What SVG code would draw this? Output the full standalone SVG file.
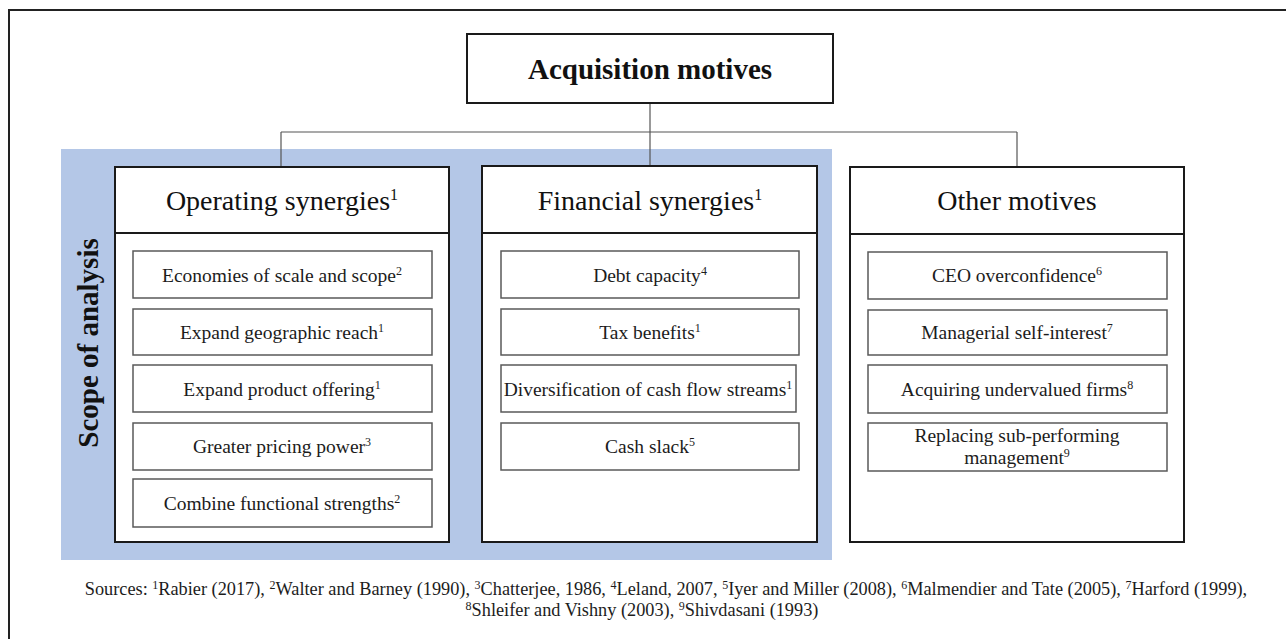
<svg xmlns="http://www.w3.org/2000/svg" width="1286" height="639" viewBox="0 0 1286 639">
  <style>
    text { font-family: "Liberation Serif", "Times New Roman", serif; fill: #111; }
    .title { font-size: 29px; font-weight: bold; text-anchor: middle; }
    .scope { font-size: 29px; font-weight: bold; text-anchor: middle; }
    .head { font-size: 28px; text-anchor: middle; }
    .item { font-size: 19.5px; text-anchor: middle; fill: #1c1c1c; }
    .src { font-size: 18.3px; text-anchor: middle; fill: #1c1c1c; }
    .sup-h { font-size: 16px; }
    .sup { font-size: 12px; }
    .frame { fill: none; stroke: #222; stroke-width: 2; }
    .cat { fill: #fff; stroke: #1a1a1a; stroke-width: 2; }
    .divider { stroke: #1a1a1a; stroke-width: 2; }
    .cell { fill: #fff; stroke: #595959; stroke-width: 1.5; }
    .link { fill: none; stroke: #555; stroke-width: 1.2; }
  </style>

  <!-- page frame (continues past the right and bottom edges) -->
  <rect class="frame" x="9" y="10" width="1290" height="650"/>

  <!-- shaded band marking the analysed motive groups -->
  <rect id="scope-band" x="61" y="149" width="771" height="411" fill="#b4c7e7"/>
  <text class="scope" transform="translate(98,343) rotate(-90)">Scope of analysis</text>

  <!-- tree connectors -->
  <g id="connectors">
    <path class="link" d="M650,103 V166"/>
    <path class="link" d="M281,132 H1017"/>
    <path class="link" d="M281,132 V166"/>
    <path class="link" d="M1017,132 V167"/>
  </g>

  <!-- root -->
  <g id="root">
    <rect class="cat" x="467" y="34" width="366" height="69"/>
    <text class="title" x="650" y="79">Acquisition motives</text>
  </g>

  <!-- operating synergies -->
  <g id="operating">
    <rect class="cat" x="115" y="167" width="334" height="375"/>
    <line class="divider" x1="115" y1="233" x2="449" y2="233"/>
    <text class="head" x="282" y="210">Operating synergies<tspan class="sup-h" baseline-shift="10">1</tspan></text>
    <rect class="cell" x="133" y="251" width="299" height="47"/>
    <text class="item" x="282" y="282">Economies of scale and scope<tspan class="sup" baseline-shift="7">2</tspan></text>
    <rect class="cell" x="133" y="309" width="299" height="46"/>
    <text class="item" x="282" y="339">Expand geographic reach<tspan class="sup" baseline-shift="7">1</tspan></text>
    <rect class="cell" x="133" y="365" width="299" height="47"/>
    <text class="item" x="282" y="396">Expand product offering<tspan class="sup" baseline-shift="7">1</tspan></text>
    <rect class="cell" x="133" y="423" width="299" height="47"/>
    <text class="item" x="282" y="453">Greater pricing power<tspan class="sup" baseline-shift="7">3</tspan></text>
    <rect class="cell" x="133" y="479" width="299" height="48"/>
    <text class="item" x="282" y="510">Combine functional strengths<tspan class="sup" baseline-shift="7">2</tspan></text>
  </g>

  <!-- financial synergies -->
  <g id="financial">
    <rect class="cat" x="482" y="166" width="335" height="376"/>
    <line class="divider" x1="482" y1="233" x2="817" y2="233"/>
    <text class="head" x="650" y="210">Financial synergies<tspan class="sup-h" baseline-shift="10">1</tspan></text>
    <rect class="cell" x="501" y="251" width="298" height="47"/>
    <text class="item" x="650" y="282">Debt capacity<tspan class="sup" baseline-shift="7">4</tspan></text>
    <rect class="cell" x="501" y="309" width="298" height="46"/>
    <text class="item" x="650" y="339">Tax benefits<tspan class="sup" baseline-shift="7">1</tspan></text>
    <rect class="cell" x="501" y="365" width="295" height="47"/>
    <text class="item" x="648" y="396">Diversification of cash flow streams<tspan class="sup" baseline-shift="7">1</tspan></text>
    <rect class="cell" x="501" y="423" width="298" height="47"/>
    <text class="item" x="650" y="453">Cash slack<tspan class="sup" baseline-shift="7">5</tspan></text>
  </g>

  <!-- other motives -->
  <g id="other">
    <rect class="cat" x="850" y="167" width="334" height="375"/>
    <line class="divider" x1="850" y1="234" x2="1184" y2="234"/>
    <text class="head" x="1017" y="210">Other motives</text>
    <rect class="cell" x="868" y="252" width="299" height="47"/>
    <text class="item" x="1017" y="282">CEO overconfidence<tspan class="sup" baseline-shift="7">6</tspan></text>
    <rect class="cell" x="868" y="310" width="299" height="45"/>
    <text class="item" x="1017" y="339">Managerial self-interest<tspan class="sup" baseline-shift="7">7</tspan></text>
    <rect class="cell" x="868" y="365" width="299" height="48"/>
    <text class="item" x="1017" y="396">Acquiring undervalued firms<tspan class="sup" baseline-shift="7">8</tspan></text>
    <rect class="cell" x="868" y="423" width="299" height="48"/>
    <text class="item" x="1017" y="442">Replacing sub-performing</text>
    <text class="item" x="1017" y="464">management<tspan class="sup" baseline-shift="7">9</tspan></text>
  </g>

  <!-- reference list -->
  <g id="sources">
    <text class="src" x="666" y="595">Sources: <tspan class="sup" baseline-shift="6">1</tspan>Rabier (2017), <tspan class="sup" baseline-shift="6">2</tspan>Walter and Barney (1990), <tspan class="sup" baseline-shift="6">3</tspan>Chatterjee, 1986, <tspan class="sup" baseline-shift="6">4</tspan>Leland, 2007, <tspan class="sup" baseline-shift="6">5</tspan>Iyer and Miller (2008), <tspan class="sup" baseline-shift="6">6</tspan>Malmendier and Tate (2005), <tspan class="sup" baseline-shift="6">7</tspan>Harford (1999),</text>
    <text class="src" x="642" y="616"><tspan class="sup" baseline-shift="6">8</tspan>Shleifer and Vishny (2003), <tspan class="sup" baseline-shift="6">9</tspan>Shivdasani (1993)</text>
  </g>
</svg>
